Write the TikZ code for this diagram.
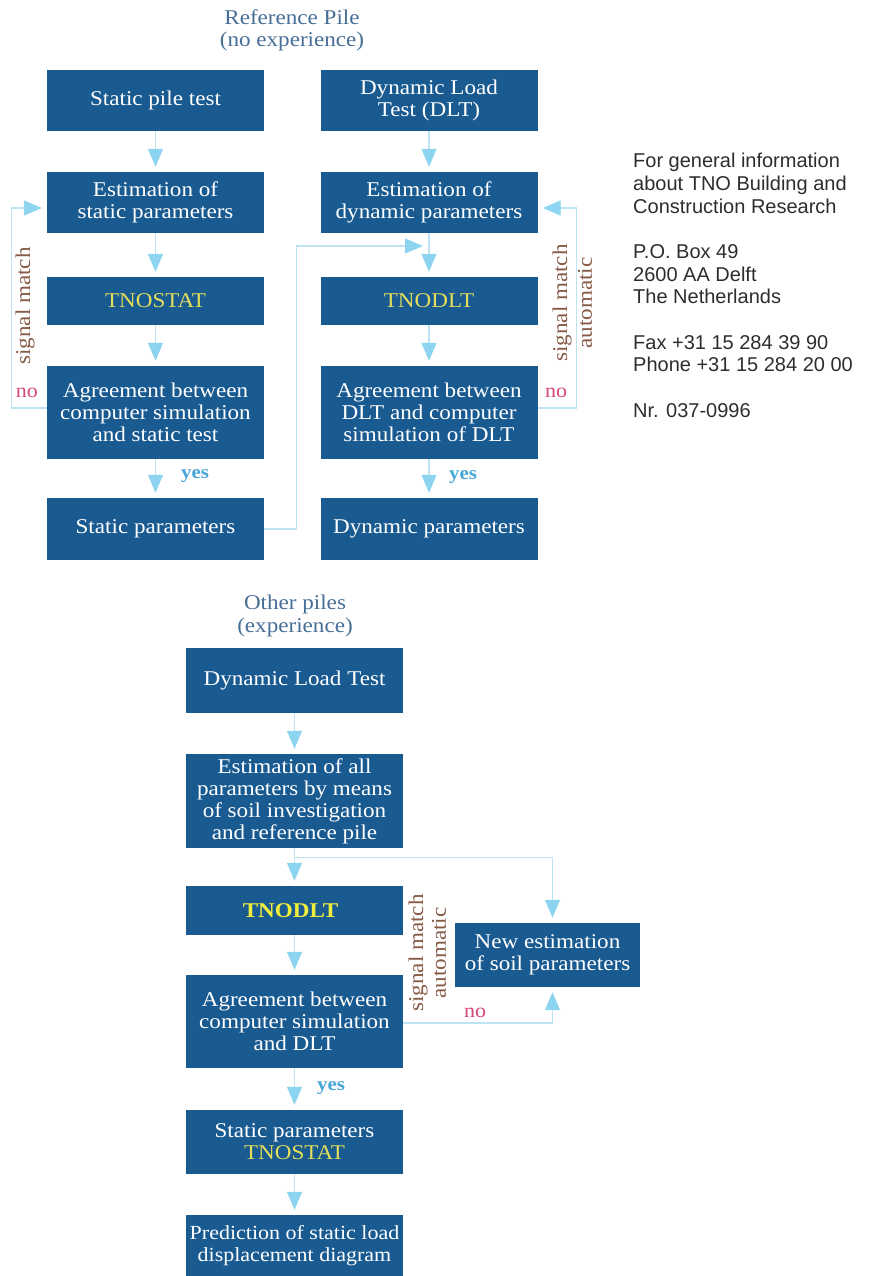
\documentclass[tikz,border=0pt]{standalone}
\usepackage{fontspec}
\setmainfont[FakeStretch=1.1]{Liberation Serif}
\newfontfamily\infofont{Liberation Sans}
\usetikzlibrary{arrows.meta}
\definecolor{boxblue}{RGB}{25,90,145}
\definecolor{arrowblue}{RGB}{140,212,240}
\definecolor{lineblue}{RGB}{190,228,242}
\definecolor{headblue}{RGB}{70,110,150}
\definecolor{labelbrown}{RGB}{135,90,70}
\definecolor{nored}{RGB}{215,70,120}
\definecolor{yesblue}{RGB}{70,165,215}
\definecolor{progyellow}{RGB}{228,222,90}
\definecolor{brightyellow}{RGB}{240,238,60}
\definecolor{infogrey}{RGB}{45,45,45}

\begin{document}
\begin{tikzpicture}[x=1pt, y=-1pt,
box/.style={rectangle, fill=boxblue, text=white, inner sep=0pt, align=center, minimum width=217pt, font=\fontsize{21}{22}\selectfont},
prog/.style={box, text=progyellow, minimum height=48pt},
head/.style={text=headblue, align=center, inner sep=0pt, font=\fontsize{21}{22.5}\selectfont},
sigtext/.style={rotate=90, text=labelbrown, inner sep=0pt, font=\fontsize{21}{22}\selectfont},
nolabel/.style={text=nored, inner sep=0pt, font=\fontsize{20}{22}\selectfont},
yeslabel/.style={text=yesblue, inner sep=0pt, font=\fontsize{19}{22}\selectfont\bfseries},
flow/.style={draw=lineblue, line width=1.2pt, -{Triangle[length=18pt, width=15pt, color=arrowblue]}, shorten >=5pt},
]
\useasboundingbox (0,0) rectangle (868,1276);

\node[head] (ref) at (292,30.5) {Reference Pile\\(no experience)};
\node[box, minimum height=61pt] (spt) at (155.5,100.5) {Static pile test};
\node[box, minimum height=61pt] (dlt) at (429,100.5) {Dynamic Load\\Test (DLT)};
\node[box, minimum height=61pt] (estS) at (155.5,202.5) {Estimation of\\static parameters};
\node[box, minimum height=61pt] (estD) at (429,202.5) {Estimation of\\dynamic parameters};
\node[prog] (stat) at (155.5,301) {TNOSTAT};
\node[prog] (dltp) at (429,301) {TNODLT};
\node[box, minimum height=93pt] (agS) at (155.5,412.5) {Agreement between\\computer simulation\\and static test};
\node[box, minimum height=93pt] (agD) at (429,412.5) {Agreement between\\DLT and computer\\simulation of DLT};
\node[box, minimum height=62pt] (parS) at (155.5,529) {Static parameters};
\node[box, minimum height=62pt] (parD) at (429,529) {Dynamic parameters};
\coordinate (merge) at (423,246);

\draw[flow] (spt) -- (estS);
\draw[flow] (estS) -- (stat);
\draw[flow] (stat) -- (agS);
\draw[flow] (agS) -- (parS);
\draw[flow] (dlt) -- (estD);
\draw[flow] (estD) -- (dltp);
\draw[flow] (dltp) -- (agD);
\draw[flow] (agD) -- (parD);
\draw[flow] ([yshift=4.5pt]agS.west) -- ++(-35,0) |- ([yshift=-5.5pt]estS.west);
\draw[flow] ([yshift=4.5pt]agD.east) -- ++(39,0) |- ([yshift=-5.5pt]estD.east);
\draw[flow, shorten >=0pt] (parS.east) -- ++(32,0) |- (merge);

\node[sigtext] (sm1) at (25,306) {signal match};
\node[nolabel] (no1) at (27,393) {no};
\node[sigtext] (sm2) at (562,303) {signal match};
\node[sigtext] (au2) at (585,303) {automatic};
\node[nolabel] (no2) at (556,393) {no};
\node[yeslabel] (yes1) at (195,476) {yes};
\node[yeslabel] (yes2) at (463,477) {yes};

\node[head] (oth) at (295,616) {Other piles\\(experience)};
\node[box, minimum height=65pt] (dlt2) at (294.5,680.5) {Dynamic Load Test};
\node[box, minimum height=94pt] (est2) at (294.5,801) {Estimation of all\\parameters by means\\of soil investigation\\and reference pile};
\node[prog, minimum height=49pt, text=brightyellow, font=\fontsize{21}{22}\selectfont\bfseries] (dlt3) at (294.5,910.5) {TNODLT\hspace*{8pt}};
\node[box, minimum height=93pt] (ag2) at (294.5,1021.5) {Agreement between\\computer simulation\\and DLT};
\node[box, minimum height=64pt] (par2) at (294.5,1142) {Static parameters\\\textcolor{progyellow}{TNOSTAT}};
\node[box, minimum height=61pt, font=\fontsize{20}{22}\selectfont] (pred) at (294.5,1245.5) {Prediction of static load\\displacement diagram};
\node[box, minimum width=185pt, minimum height=64pt] (newest) at (547.5,955) {New estimation\\of soil parameters};

\draw[flow] (dlt2) -- (est2);
\draw[flow] (est2) -- (dlt3);
\draw[flow] (dlt3) -- (ag2);
\draw[flow] (ag2) -- (par2);
\draw[flow] (par2) -- (pred);
\draw[flow] ([yshift=-9pt]est2.south) -| ([xshift=5pt]newest.north);
\draw[flow] ([yshift=-1.5pt]ag2.east) -| ([xshift=5pt]newest.south);

\node[sigtext] (sm3) at (418,953) {signal match};
\node[sigtext] (au3) at (439,953) {automatic};
\node[nolabel] (no3) at (475,1013) {no};
\node[yeslabel] (yes3) at (331,1088) {yes};

\node[anchor=north west, align=left, inner sep=0pt, text=infogrey, font=\infofont\fontsize{20}{22.7}\selectfont] (info) at (633,153)
{For general information\\about TNO Building and\\Construction Research\\[22.7pt]
P.O. Box 49\\2600 AA Delft\\The Netherlands\\[22.7pt]
Fax +31 15 284 39 90\\Phone +31 15 284 20 00\\[22.7pt]
Nr. 037-0996};
\end{tikzpicture}
\end{document}
